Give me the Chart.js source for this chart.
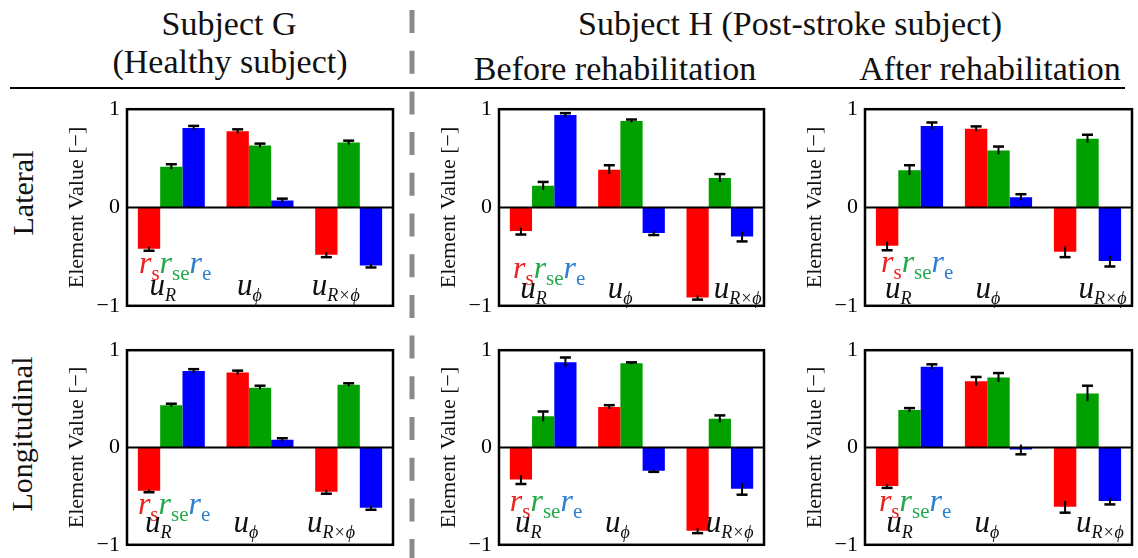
<!DOCTYPE html>
<html>
<head>
<meta charset="utf-8">
<script src="https://cdn.jsdelivr.net/npm/chart.js@4.4.1/dist/chart.umd.min.js"></script>
<style>
  html, body { margin: 0; padding: 0; background: #fff; }
  #page { position: relative; width: 1138px; height: 558px; overflow: hidden; }
  #page canvas { position: absolute; }
  #page svg { position: absolute; left: 0; top: 0; }
</style>
</head>
<body>
<div id="page">
  <svg width="1138" height="558" font-family="'Liberation Serif', 'Times New Roman', serif" fill="#111">
    <text x="229" y="35" font-size="34" text-anchor="middle">Subject G</text>
    <text x="230" y="73" font-size="34" text-anchor="middle">(Healthy subject)</text>
    <text x="790" y="35" font-size="34" text-anchor="middle">Subject H (Post-stroke subject)</text>
    <text x="615" y="80" font-size="34" text-anchor="middle">Before rehabilitation</text>
    <text x="990" y="80" font-size="34" text-anchor="middle">After rehabilitation</text>
    <line x1="10" y1="88" x2="1125" y2="88" stroke="#000" stroke-width="2"/>
    <line x1="412" y1="10" x2="412" y2="558" stroke="#8a8a8a" stroke-width="5" stroke-dasharray="23 17.7"/>
    <text x="33" y="193" font-size="30" text-anchor="middle" transform="rotate(-90 33 193)">Lateral</text>
    <text x="32" y="434" font-size="30" text-anchor="middle" transform="rotate(-90 32 434)">Longitudinal</text>
  </svg>
  <canvas id="latG"></canvas>
  <canvas id="latHBefore"></canvas>
  <canvas id="latHAfter"></canvas>
  <canvas id="lonG"></canvas>
  <canvas id="lonHBefore"></canvas>
  <canvas id="lonHAfter"></canvas>
</div>

<script>
// element groups on the x axis and the three bar series
const categories = ['u_R', 'u_phi', 'u_RxPhi'];
const seriesNames = ['r_s', 'r_se', 'r_e'];

// values per panel: rows are r_s, r_se, r_e ; columns follow categories
const latG = [[-0.42, 0.775, -0.48], [0.415, 0.63, 0.66], [0.81, 0.07, -0.59]];
const latGErr = [[0.02, 0.02, 0.025], [0.025, 0.02, 0.02], [0.02, 0.02, 0.02]];

const latHBefore = [[-0.24, 0.385, -0.915], [0.22, 0.88, 0.30], [0.94, -0.26, -0.295]];
const latHBeforeErr = [[0.035, 0.045, 0.022], [0.04, 0.015, 0.04], [0.02, 0.02, 0.05]];

const latHAfter = [[-0.39, 0.80, -0.45], [0.38, 0.58, 0.70], [0.83, 0.105, -0.545]];
const latHAfterErr = [[0.045, 0.025, 0.055], [0.05, 0.04, 0.04], [0.035, 0.03, 0.055]];

const lonG = [[-0.445, 0.77, -0.455], [0.435, 0.615, 0.645], [0.785, 0.08, -0.62]];
const lonGErr = [[0.015, 0.02, 0.02], [0.015, 0.02, 0.015], [0.02, 0.015, 0.02]];

const lonHBefore = [[-0.33, 0.415, -0.855], [0.32, 0.865, 0.295], [0.875, -0.24, -0.425]];
const lonHBeforeErr = [[0.045, 0.02, 0.025], [0.05, 0.01, 0.035], [0.05, 0.01, 0.06]];

const lonHAfter = [[-0.395, 0.68, -0.61], [0.385, 0.72, 0.555], [0.83, -0.02, -0.55]];
const lonHAfterErr = [[0.02, 0.045, 0.06], [0.02, 0.045, 0.08], [0.025, 0.05, 0.035]];

const yTicks = [-1, 0, 1];

const barColors = ['#ff0000', '#00a000', '#0000ff'];
const keyColors = ['#ee2020', '#24aa4c', '#2f7fd0'];
const serif = '"Liberation Serif", "DejaVu Serif", serif';

// plot frames and label spots for each panel
const panels = [
  { id: 'latG', values: latG, errors: latGErr, left: 127, right: 393, top: 105, bottom: 310,
    keyX: 0.045, keyY: -0.67, uX: [0.085, 0.414, 0.695], uY: -0.89 },
  { id: 'latHBefore', values: latHBefore, errors: latHBeforeErr, left: 499, right: 764, top: 105, bottom: 310,
    keyX: 0.053, keyY: -0.72, uX: [0.08, 0.41, 0.81], uY: -0.92 },
  { id: 'latHAfter', values: latHAfter, errors: latHAfterErr, left: 865, right: 1132, top: 105, bottom: 310,
    keyX: 0.06, keyY: -0.66, uX: [0.075, 0.414, 0.80], uY: -0.92 },
  { id: 'lonG', values: lonG, errors: lonGErr, left: 127, right: 393, top: 346, bottom: 549,
    keyX: 0.041, keyY: -0.685, uX: [0.068, 0.40, 0.677], uY: -0.87 },
  { id: 'lonHBefore', values: lonHBefore, errors: lonHBeforeErr, left: 499, right: 764, top: 346, bottom: 549,
    keyX: 0.041, keyY: -0.65, uX: [0.06, 0.40, 0.78], uY: -0.87 },
  { id: 'lonHAfter', values: lonHAfter, errors: lonHAfterErr, left: 865, right: 1132, top: 346, bottom: 549,
    keyX: 0.052, keyY: -0.655, uX: [0.08, 0.41, 0.79], uY: -0.87 }
];

const AXIS_W = 67, PAD_R = 4, PAD_V = 16;

// text with a lowered subscript, returns the x where it ends
function subText(ctx, x, y, main, sub, color, mainFont, subFont, drop) {
  ctx.fillStyle = color;
  ctx.font = mainFont;
  ctx.fillText(main, x, y);
  x += ctx.measureText(main).width;
  ctx.font = subFont;
  ctx.fillText(sub, x, y + drop);
  return x + ctx.measureText(sub).width;
}

const panelDecor = {
  id: 'panelDecor',
  afterDatasetsDraw(chart, args, opts) {
    const { ctx, chartArea: a, scales: { y } } = chart;
    ctx.save();
    // zero line
    const y0 = y.getPixelForValue(0);
    ctx.strokeStyle = '#000';
    ctx.lineWidth = 2;
    ctx.beginPath();
    ctx.moveTo(a.left, y0);
    ctx.lineTo(a.right, y0);
    ctx.stroke();

    // error bars, cap on the outer end
    chart.data.datasets.forEach((ds, di) => {
      chart.getDatasetMeta(di).data.forEach((bar, i) => {
        const v = ds.data[i], e = ds.errors[i];
        const s = v < 0 ? -1 : 1;
        const yIn = y.getPixelForValue(v - s * e);
        const yOut = y.getPixelForValue(v + s * e);
        ctx.lineWidth = 2;
        ctx.beginPath();
        ctx.moveTo(bar.x, yIn);
        ctx.lineTo(bar.x, yOut);
        ctx.stroke();
        ctx.lineWidth = 2.5;
        ctx.beginPath();
        ctx.moveTo(bar.x - 5.5, yOut);
        ctx.lineTo(bar.x + 5.5, yOut);
        ctx.stroke();
      });
    });

    // frame
    ctx.lineWidth = 2.5;
    ctx.strokeRect(a.left, a.top, a.width, a.height);

    // series key
    ctx.textBaseline = 'alphabetic';
    let kx = a.left + opts.keyX * a.width;
    const ky = y.getPixelForValue(opts.keyY);
    ['s', 'se', 'e'].forEach((sub, k) => {
      kx = subText(ctx, kx, ky, 'r', sub, keyColors[k],
        'italic 32px ' + serif, '21px ' + serif, 7);
    });

    // element labels under each group
    const uy = y.getPixelForValue(opts.uY);
    ['R', '\u03D5', 'R\u00D7\u03D5'].forEach((sub, k) => {
      subText(ctx, a.left + opts.uX[k] * a.width, uy, 'u', sub, '#111',
        'italic 31px ' + serif, 'italic 18px ' + serif, 6);
    });
    ctx.restore();
  }
};

panels.forEach(p => {
  const canvas = document.getElementById(p.id);
  const w = p.right - p.left + AXIS_W + PAD_R;
  const h = p.bottom - p.top + 2 * PAD_V;
  canvas.width = w;
  canvas.height = h;
  canvas.style.left = (p.left - AXIS_W) + 'px';
  canvas.style.top = (p.top - PAD_V) + 'px';

  new Chart(canvas.getContext('2d'), {
    type: 'bar',
    data: {
      labels: categories,
      datasets: seriesNames.map((name, k) => ({
        label: name,
        data: p.values[k],
        errors: p.errors[k],
        backgroundColor: barColors[k],
        borderWidth: 0,
        barPercentage: 1.0,
        categoryPercentage: 0.755
      }))
    },
    options: {
      responsive: false,
      animation: false,
      layout: { padding: { left: 0, right: PAD_R, top: PAD_V, bottom: PAD_V } },
      plugins: {
        legend: { display: false },
        tooltip: { enabled: false },
        panelDecor: { keyX: p.keyX, keyY: p.keyY, uX: p.uX, uY: p.uY }
      },
      scales: {
        x: { display: false },
        y: {
          min: -1,
          max: 1,
          afterFit(scale) { scale.width = AXIS_W; },
          afterBuildTicks(scale) { scale.ticks = yTicks.map(v => ({ value: v })); },
          grid: { display: false, drawTicks: false },
          border: { display: false },
          ticks: {
            padding: 7,
            color: '#000',
            font: { family: serif, size: 22 },
            callback: v => (v < 0 ? '\u2212' + Math.abs(v) : String(v))
          },
          title: {
            display: true,
            text: 'Element Value [\u2212]',
            color: '#111',
            font: { family: serif, size: 22 },
            padding: { top: 4, bottom: 4 }
          }
        }
      }
    },
    plugins: [panelDecor]
  });
});
</script>
</body>
</html>
